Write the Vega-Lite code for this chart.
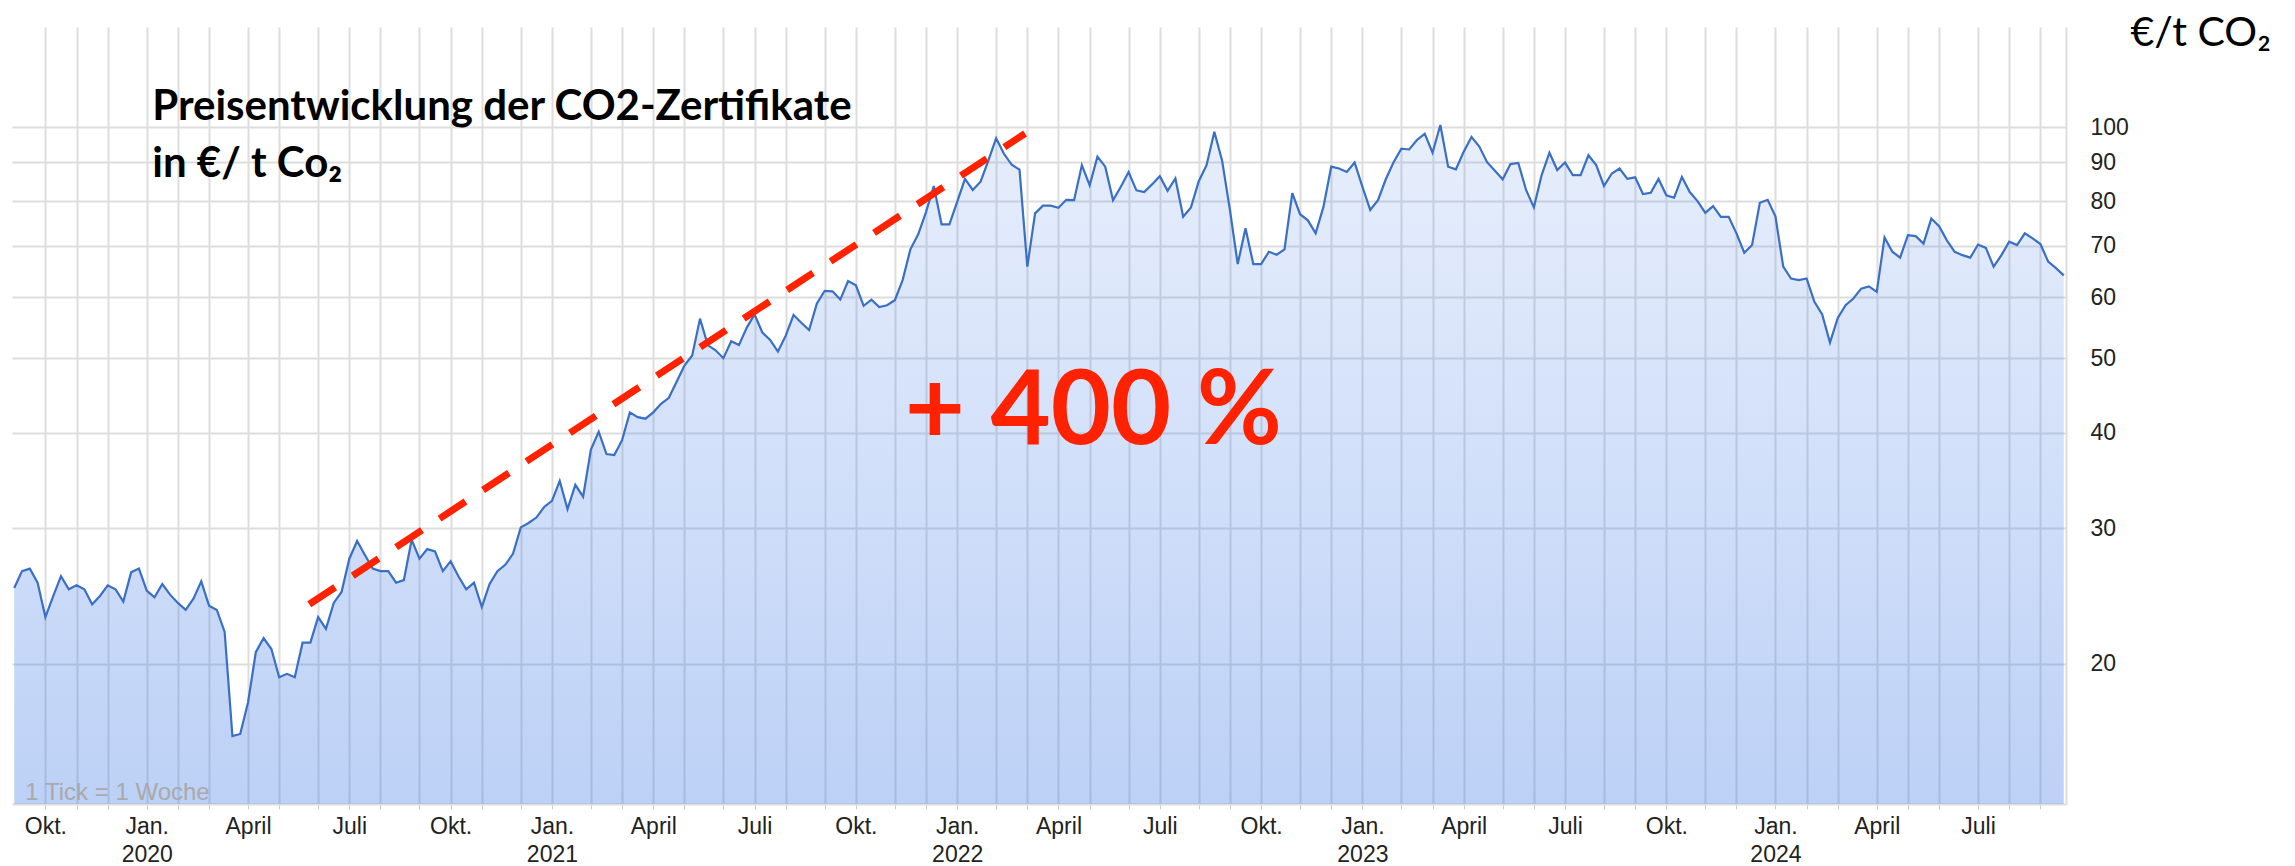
{
  "$schema": "https://vega.github.io/schema/vega-lite/v6.json",
  "width": 2054,
  "height": 777,
  "autosize": {"type": "none"},
  "padding": {"left": 12, "top": 27, "right": 229, "bottom": 62},
  "background": "white",
  "config": {"view": {"stroke": null}},
  "data": {"values": [
    {"d":"2019-09-08","v":25.1},{"d":"2019-09-15","v":26.4},{"d":"2019-09-22","v":26.6},{"d":"2019-09-29","v":25.5},
    {"d":"2019-10-06","v":23.0},{"d":"2019-10-13","v":24.5},{"d":"2019-10-20","v":26.0},{"d":"2019-10-27","v":25.0},
    {"d":"2019-11-03","v":25.3},{"d":"2019-11-10","v":25.0},{"d":"2019-11-17","v":23.9},{"d":"2019-11-24","v":24.5},
    {"d":"2019-12-01","v":25.3},{"d":"2019-12-08","v":25.0},{"d":"2019-12-15","v":24.1},{"d":"2019-12-22","v":26.3},{"d":"2019-12-29","v":26.6},
    {"d":"2020-01-05","v":24.9},{"d":"2020-01-12","v":24.4},{"d":"2020-01-19","v":25.4},{"d":"2020-01-26","v":24.6},
    {"d":"2020-02-02","v":24.0},{"d":"2020-02-09","v":23.5},{"d":"2020-02-16","v":24.3},{"d":"2020-02-23","v":25.6},
    {"d":"2020-03-01","v":23.8},{"d":"2020-03-08","v":23.5},{"d":"2020-03-15","v":22.0},{"d":"2020-03-22","v":16.1},{"d":"2020-03-29","v":16.2},
    {"d":"2020-04-05","v":17.8},{"d":"2020-04-12","v":20.7},{"d":"2020-04-19","v":21.6},{"d":"2020-04-26","v":20.9},
    {"d":"2020-05-03","v":19.2},{"d":"2020-05-10","v":19.4},{"d":"2020-05-17","v":19.2},{"d":"2020-05-24","v":21.3},{"d":"2020-05-31","v":21.3},
    {"d":"2020-06-07","v":23.0},{"d":"2020-06-14","v":22.2},{"d":"2020-06-21","v":24.0},{"d":"2020-06-28","v":24.8},
    {"d":"2020-07-05","v":27.4},{"d":"2020-07-12","v":28.9},{"d":"2020-07-19","v":27.7},{"d":"2020-07-26","v":26.6},
    {"d":"2020-08-02","v":26.4},{"d":"2020-08-09","v":26.4},{"d":"2020-08-16","v":25.5},{"d":"2020-08-23","v":25.7},{"d":"2020-08-30","v":29.0},
    {"d":"2020-09-06","v":27.4},{"d":"2020-09-13","v":28.2},{"d":"2020-09-20","v":28.0},{"d":"2020-09-27","v":26.4},
    {"d":"2020-10-04","v":27.2},{"d":"2020-10-11","v":26.0},{"d":"2020-10-18","v":25.0},{"d":"2020-10-25","v":25.5},
    {"d":"2020-11-01","v":23.7},{"d":"2020-11-08","v":25.4},{"d":"2020-11-15","v":26.4},{"d":"2020-11-22","v":26.9},{"d":"2020-11-29","v":27.8},
    {"d":"2020-12-06","v":30.1},{"d":"2020-12-13","v":30.5},{"d":"2020-12-20","v":31.0},{"d":"2020-12-27","v":32.0},
    {"d":"2021-01-03","v":32.6},{"d":"2021-01-10","v":34.6},{"d":"2021-01-17","v":31.8},{"d":"2021-01-24","v":34.2},{"d":"2021-01-31","v":33.0},
    {"d":"2021-02-07","v":38.0},{"d":"2021-02-14","v":40.1},{"d":"2021-02-21","v":37.5},{"d":"2021-02-28","v":37.4},
    {"d":"2021-03-07","v":39.1},{"d":"2021-03-14","v":42.5},{"d":"2021-03-21","v":41.9},{"d":"2021-03-28","v":41.7},
    {"d":"2021-04-04","v":42.5},{"d":"2021-04-11","v":43.6},{"d":"2021-04-18","v":44.4},{"d":"2021-04-25","v":46.6},
    {"d":"2021-05-02","v":48.9},{"d":"2021-05-09","v":50.4},{"d":"2021-05-16","v":56.3},{"d":"2021-05-23","v":52.0},{"d":"2021-05-30","v":51.2},
    {"d":"2021-06-06","v":50.0},{"d":"2021-06-13","v":52.6},{"d":"2021-06-20","v":52.0},{"d":"2021-06-27","v":54.8},
    {"d":"2021-07-04","v":57.0},{"d":"2021-07-11","v":54.0},{"d":"2021-07-18","v":52.8},{"d":"2021-07-25","v":51.0},
    {"d":"2021-08-01","v":53.5},{"d":"2021-08-08","v":56.9},{"d":"2021-08-15","v":55.6},{"d":"2021-08-22","v":54.4},{"d":"2021-08-29","v":58.9},
    {"d":"2021-09-05","v":61.2},{"d":"2021-09-12","v":61.1},{"d":"2021-09-19","v":59.6},{"d":"2021-09-26","v":63.0},
    {"d":"2021-10-03","v":62.2},{"d":"2021-10-10","v":58.5},{"d":"2021-10-17","v":59.6},{"d":"2021-10-24","v":58.3},{"d":"2021-10-31","v":58.6},
    {"d":"2021-11-07","v":59.5},{"d":"2021-11-14","v":63.2},{"d":"2021-11-21","v":69.3},{"d":"2021-11-28","v":72.5},
    {"d":"2021-12-05","v":77.5},{"d":"2021-12-12","v":83.8},{"d":"2021-12-19","v":74.7},{"d":"2021-12-26","v":74.7},
    {"d":"2022-01-02","v":79.9},{"d":"2022-01-09","v":85.6},{"d":"2022-01-16","v":82.8},{"d":"2022-01-23","v":84.9},{"d":"2022-01-30","v":90.4},
    {"d":"2022-02-06","v":96.7},{"d":"2022-02-13","v":92.3},{"d":"2022-02-20","v":89.3},{"d":"2022-02-27","v":88.0},
    {"d":"2022-03-06","v":65.8},{"d":"2022-03-13","v":77.2},{"d":"2022-03-20","v":79.0},{"d":"2022-03-27","v":79.0},
    {"d":"2022-04-03","v":78.5},{"d":"2022-04-10","v":80.4},{"d":"2022-04-17","v":80.3},{"d":"2022-04-24","v":89.2},
    {"d":"2022-05-01","v":84.0},{"d":"2022-05-08","v":91.5},{"d":"2022-05-15","v":88.8},{"d":"2022-05-22","v":80.3},{"d":"2022-05-29","v":83.6},
    {"d":"2022-06-05","v":87.4},{"d":"2022-06-12","v":82.7},{"d":"2022-06-19","v":82.3},{"d":"2022-06-26","v":84.2},
    {"d":"2022-07-03","v":86.3},{"d":"2022-07-10","v":82.6},{"d":"2022-07-17","v":85.7},{"d":"2022-07-24","v":76.4},{"d":"2022-07-31","v":78.6},
    {"d":"2022-08-07","v":85.0},{"d":"2022-08-14","v":89.2},{"d":"2022-08-21","v":98.6},{"d":"2022-08-28","v":90.4},
    {"d":"2022-09-04","v":78.0},{"d":"2022-09-11","v":66.3},{"d":"2022-09-18","v":73.8},{"d":"2022-09-25","v":66.3},
    {"d":"2022-10-02","v":66.3},{"d":"2022-10-09","v":68.8},{"d":"2022-10-16","v":68.2},{"d":"2022-10-23","v":69.3},{"d":"2022-10-30","v":82.0},
    {"d":"2022-11-06","v":77.0},{"d":"2022-11-13","v":75.6},{"d":"2022-11-20","v":72.7},{"d":"2022-11-27","v":78.7},
    {"d":"2022-12-04","v":88.8},{"d":"2022-12-11","v":88.3},{"d":"2022-12-18","v":87.4},{"d":"2022-12-25","v":89.9},
    {"d":"2023-01-01","v":83.6},{"d":"2023-01-08","v":78.0},{"d":"2023-01-15","v":80.3},{"d":"2023-01-22","v":85.5},{"d":"2023-01-29","v":90.0},
    {"d":"2023-02-05","v":93.7},{"d":"2023-02-12","v":93.5},{"d":"2023-02-19","v":96.2},{"d":"2023-02-26","v":98.0},
    {"d":"2023-03-05","v":92.6},{"d":"2023-03-12","v":100.6},{"d":"2023-03-19","v":88.8},{"d":"2023-03-26","v":88.1},
    {"d":"2023-04-02","v":92.9},{"d":"2023-04-09","v":97.1},{"d":"2023-04-16","v":94.3},{"d":"2023-04-23","v":90.0},{"d":"2023-04-30","v":87.7},
    {"d":"2023-05-07","v":85.5},{"d":"2023-05-14","v":89.5},{"d":"2023-05-21","v":89.8},{"d":"2023-05-28","v":82.8},
    {"d":"2023-06-04","v":78.6},{"d":"2023-06-11","v":86.6},{"d":"2023-06-18","v":92.6},{"d":"2023-06-25","v":87.9},
    {"d":"2023-07-02","v":89.9},{"d":"2023-07-09","v":86.6},{"d":"2023-07-16","v":86.6},{"d":"2023-07-23","v":91.9},{"d":"2023-07-30","v":89.2},
    {"d":"2023-08-06","v":83.8},{"d":"2023-08-13","v":87.0},{"d":"2023-08-20","v":88.3},{"d":"2023-08-27","v":85.6},
    {"d":"2023-09-03","v":86.0},{"d":"2023-09-10","v":81.8},{"d":"2023-09-17","v":82.1},{"d":"2023-09-24","v":85.6},
    {"d":"2023-10-01","v":81.5},{"d":"2023-10-08","v":80.9},{"d":"2023-10-15","v":86.1},{"d":"2023-10-22","v":82.3},{"d":"2023-10-29","v":80.1},
    {"d":"2023-11-05","v":77.3},{"d":"2023-11-12","v":78.9},{"d":"2023-11-19","v":76.4},{"d":"2023-11-26","v":76.4},
    {"d":"2023-12-03","v":72.7},{"d":"2023-12-10","v":68.6},{"d":"2023-12-17","v":70.2},{"d":"2023-12-24","v":79.7},{"d":"2023-12-31","v":80.4},
    {"d":"2024-01-07","v":76.5},{"d":"2024-01-14","v":65.8},{"d":"2024-01-21","v":63.5},{"d":"2024-01-28","v":63.2},
    {"d":"2024-02-04","v":63.5},{"d":"2024-02-11","v":59.2},{"d":"2024-02-18","v":57.0},{"d":"2024-02-25","v":52.4},
    {"d":"2024-03-03","v":56.4},{"d":"2024-03-10","v":58.6},{"d":"2024-03-17","v":59.8},{"d":"2024-03-24","v":61.6},{"d":"2024-03-31","v":62.0},
    {"d":"2024-04-07","v":61.0},{"d":"2024-04-14","v":71.8},{"d":"2024-04-21","v":68.8},{"d":"2024-04-28","v":67.6},
    {"d":"2024-05-05","v":72.3},{"d":"2024-05-12","v":72.1},{"d":"2024-05-19","v":70.5},{"d":"2024-05-26","v":76.0},
    {"d":"2024-06-02","v":74.3},{"d":"2024-06-09","v":71.2},{"d":"2024-06-16","v":68.8},{"d":"2024-06-23","v":68.1},{"d":"2024-06-30","v":67.6},
    {"d":"2024-07-07","v":70.3},{"d":"2024-07-14","v":69.6},{"d":"2024-07-21","v":65.8},{"d":"2024-07-28","v":68.1},
    {"d":"2024-08-04","v":70.9},{"d":"2024-08-11","v":70.2},{"d":"2024-08-18","v":72.7},{"d":"2024-08-25","v":71.6},
    {"d":"2024-09-01","v":70.4},{"d":"2024-09-08","v":66.8},{"d":"2024-09-15","v":65.5},{"d":"2024-09-22","v":64.1}
  ]},
  "encoding": {
    "x": {
      "field": "d", "type": "temporal",
      "scale": {"type": "utc", "domain": [{"year": 2019, "month": 9, "date": 6, "utc": true}, {"year": 2024, "month": 9, "date": 24, "utc": true}]},
      "axis": {
        "title": null,
        "values": [
          {"year":2019,"month":10,"date":6,"utc":true},{"year":2019,"month":11,"date":3,"utc":true},{"year":2019,"month":12,"date":1,"utc":true},
          {"year":2020,"month":1,"date":5,"utc":true},{"year":2020,"month":2,"date":2,"utc":true},{"year":2020,"month":3,"date":1,"utc":true},
          {"year":2020,"month":4,"date":5,"utc":true},{"year":2020,"month":5,"date":3,"utc":true},{"year":2020,"month":6,"date":7,"utc":true},
          {"year":2020,"month":7,"date":5,"utc":true},{"year":2020,"month":8,"date":2,"utc":true},{"year":2020,"month":9,"date":6,"utc":true},
          {"year":2020,"month":10,"date":4,"utc":true},{"year":2020,"month":11,"date":1,"utc":true},{"year":2020,"month":12,"date":6,"utc":true},
          {"year":2021,"month":1,"date":3,"utc":true},{"year":2021,"month":2,"date":7,"utc":true},{"year":2021,"month":3,"date":7,"utc":true},
          {"year":2021,"month":4,"date":4,"utc":true},{"year":2021,"month":5,"date":2,"utc":true},{"year":2021,"month":6,"date":6,"utc":true},
          {"year":2021,"month":7,"date":4,"utc":true},{"year":2021,"month":8,"date":1,"utc":true},{"year":2021,"month":9,"date":5,"utc":true},
          {"year":2021,"month":10,"date":3,"utc":true},{"year":2021,"month":11,"date":7,"utc":true},{"year":2021,"month":12,"date":5,"utc":true},
          {"year":2022,"month":1,"date":2,"utc":true},{"year":2022,"month":2,"date":6,"utc":true},{"year":2022,"month":3,"date":6,"utc":true},
          {"year":2022,"month":4,"date":3,"utc":true},{"year":2022,"month":5,"date":1,"utc":true},{"year":2022,"month":6,"date":5,"utc":true},
          {"year":2022,"month":7,"date":3,"utc":true},{"year":2022,"month":8,"date":7,"utc":true},{"year":2022,"month":9,"date":4,"utc":true},
          {"year":2022,"month":10,"date":2,"utc":true},{"year":2022,"month":11,"date":6,"utc":true},{"year":2022,"month":12,"date":4,"utc":true},
          {"year":2023,"month":1,"date":1,"utc":true},{"year":2023,"month":2,"date":5,"utc":true},{"year":2023,"month":3,"date":5,"utc":true},
          {"year":2023,"month":4,"date":2,"utc":true},{"year":2023,"month":5,"date":7,"utc":true},{"year":2023,"month":6,"date":4,"utc":true},
          {"year":2023,"month":7,"date":2,"utc":true},{"year":2023,"month":8,"date":6,"utc":true},{"year":2023,"month":9,"date":3,"utc":true},
          {"year":2023,"month":10,"date":1,"utc":true},{"year":2023,"month":11,"date":5,"utc":true},{"year":2023,"month":12,"date":3,"utc":true},
          {"year":2024,"month":1,"date":7,"utc":true},{"year":2024,"month":2,"date":4,"utc":true},{"year":2024,"month":3,"date":3,"utc":true},
          {"year":2024,"month":4,"date":7,"utc":true},{"year":2024,"month":5,"date":5,"utc":true},{"year":2024,"month":6,"date":2,"utc":true},
          {"year":2024,"month":7,"date":7,"utc":true},{"year":2024,"month":8,"date":4,"utc":true},{"year":2024,"month":9,"date":1,"utc":true}
        ],
        "labelExpr": "utcmonth(datum.value)==0 ? ['Jan.', '' + utcyear(datum.value)] : utcmonth(datum.value)==3 ? 'April' : utcmonth(datum.value)==6 ? 'Juli' : utcmonth(datum.value)==9 ? 'Okt.' : ''",
        "labelOverlap": false,
        "labelFlush": false,
        "labelAlign": "center",
        "labelBaseline": "top",
        "labelFont": "Liberation Sans",
        "labelFontSize": 23,
        "labelColor": "#222222",
        "labelLineHeight": 28,
        "labelPadding": 6,
        "ticks": true,
        "tickSize": 5,
        "tickColor": "#cccccc",
        "tickWidth": 1,
        "grid": true,
        "gridColor": "#dddddd",
        "gridWidth": 2,
        "domain": true,
        "domainColor": "#dddddd",
        "domainWidth": 2
      }
    },
    "y": {
      "field": "v", "type": "quantitative",
      "scale": {"type": "log", "domain": [13.13, 135], "nice": false, "zero": false},
      "axis": {
        "orient": "right",
        "values": [20, 30, 40, 50, 60, 70, 80, 90, 100],
        "format": "d",
        "labelOverlap": false,
        "labelAlign": "left",
        "labelBaseline": "middle",
        "labelFont": "Liberation Sans",
        "labelFontSize": 23,
        "labelColor": "#222222",
        "labelPadding": 24,
        "ticks": false,
        "grid": true,
        "gridColor": "#dddddd",
        "gridWidth": 2,
        "domain": true,
        "domainColor": "#dddddd",
        "domainWidth": 2,
        "title": "€/t CO₂",
        "titleAngle": 0,
        "titleAlign": "left",
        "titleBaseline": "alphabetic",
        "titleX": 64,
        "titleY": 18,
        "titleFont": "Lato",
        "titleFontSize": 41,
        "titleFontWeight": "normal",
        "titleColor": "#000000"
      }
    }
  },
  "layer": [
    {
      "mark": {
        "type": "area",
        "opacity": 1,
        "line": false,
        "color": {
          "gradient": "linear", "x1": 0, "y1": 0, "x2": 0, "y2": 1,
          "stops": [
            {"offset": 0, "color": "rgba(60,120,230,0.12)"},
            {"offset": 1, "color": "rgba(60,120,230,0.34)"}
          ]
        }
      },
      "encoding": {"y2": {"datum": 13.13}}
    },
    {
      "mark": {"type": "line", "color": "#3a6fc6", "strokeWidth": 2.2, "interpolate": "linear"},
      "encoding": {}
    },
    {
      "data": {"values": [{"d": "2020-05-30", "v": 23.9}, {"d": "2022-03-04", "v": 98.1}]},
      "mark": {"type": "line", "color": "#ff2200", "strokeWidth": 7, "strokeDash": [31, 21], "strokeCap": "butt"},
      "encoding": {}
    },
    {
      "data": {"values": [
        {"d": "2020-01-10", "v": 102.1, "t": "Preisentwicklung der CO2-Zertifikate"},
        {"d": "2020-01-10", "v": 86.1, "t": "in €/ t Co₂"}
      ]},
      "mark": {"type": "text", "font": "Lato", "fontWeight": "bold", "fontSize": 42, "align": "left", "baseline": "alphabetic", "color": "#000000"},
      "encoding": {"text": {"field": "t", "type": "nominal"}}
    },
    {
      "data": {"values": [{"d": "2021-11-16", "v": 38.6, "t": "+ 400 %"}]},
      "mark": {"type": "text", "font": "Lato", "fontWeight": "bold", "fontSize": 104, "align": "left", "baseline": "alphabetic", "color": "#ff2200"},
      "encoding": {"text": {"field": "t", "type": "nominal"}}
    },
    {
      "data": {"values": [{"d": "2019-09-18", "v": 13.3, "t": "1 Tick = 1 Woche"}]},
      "mark": {"type": "text", "font": "Liberation Sans", "fontSize": 24, "align": "left", "baseline": "alphabetic", "color": "#a9a9a9"},
      "encoding": {"text": {"field": "t", "type": "nominal"}}
    }
  ]
}
